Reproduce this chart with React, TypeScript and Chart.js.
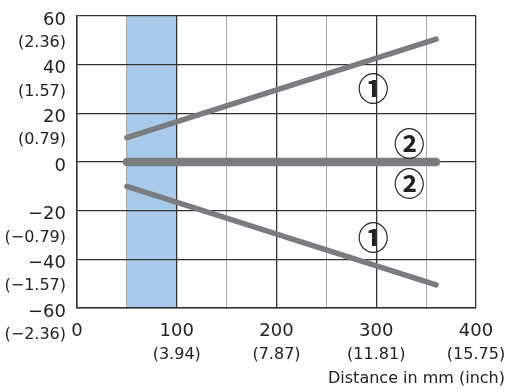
import React, { useEffect, useRef } from "react";
import { Chart, registerables } from "chart.js";

Chart.register(...registerables);

// Data
const xStart = 50;
const xEnd = 360;
const upperY = [10, 50.5];
const lowerY = [-10, -50.5];
const middleY = [0, 0];
const yTicks = [60, 40, 20, 0, -20, -40, -60];
const yInch = ["(2.36)", "(1.57)", "(0.79)", "", "(−0.79)", "(−1.57)", "(−2.36)"];
const xTicks = [0, 100, 200, 300, 400];
const xInch = ["", "(3.94)", "(7.87)", "(11.81)", "(15.75)"];
const bandRange = [50, 100];
const markers = [
  { x: 297, y: 30.5, t: "①" },
  { x: 333, y: 7.8, t: "②" },
  { x: 333, y: -8.6, t: "②" },
  { x: 297, y: -31, t: "①" },
];
const xTitle = "Distance in mm (inch)";

const LINE = "#7b7c80";
const FONT = "'DejaVu Sans', 'Liberation Sans', sans-serif";

const fmt = (v: number) => (v < 0 ? "−" + Math.abs(v) : String(v));

const annotPlugin = {
  id: "annot",
  beforeDraw(chart: any) {
    const { ctx, chartArea, scales } = chart;
    const x0 = scales.x.getPixelForValue(bandRange[0]);
    const x1 = scales.x.getPixelForValue(bandRange[1]);
    ctx.save();
    ctx.fillStyle = "#a9cbeb";
    ctx.fillRect(x0, chartArea.top, x1 - x0, chartArea.bottom - chartArea.top);
    ctx.restore();
  },
  afterDraw(chart: any) {
    const { ctx, scales } = chart;
    ctx.save();
    ctx.fillStyle = "#222";
    // y labels
    ctx.textAlign = "right";
    ctx.textBaseline = "middle";
    yTicks.forEach((v, i) => {
      const py = scales.y.getPixelForValue(v);
      ctx.font = "18px " + FONT;
      ctx.fillText(fmt(v), 66, py + 4);
      if (yInch[i]) {
        ctx.font = "16px " + FONT;
        ctx.fillText(yInch[i], 66, py + 27);
      }
    });
    // x labels
    ctx.textAlign = "center";
    xTicks.forEach((v, i) => {
      const px = scales.x.getPixelForValue(v);
      ctx.font = "18px " + FONT;
      ctx.fillText(fmt(v), px, 331);
      if (xInch[i]) {
        ctx.font = "16px " + FONT;
        ctx.fillText(xInch[i], px, 355);
      }
    });
    ctx.textAlign = "right";
    ctx.font = "16px " + FONT;
    ctx.fillText(xTitle, 505, 379);
    // markers
    ctx.textAlign = "center";
    ctx.font = "bold 31px 'Noto Sans CJK JP', 'DejaVu Sans', sans-serif";
    markers.forEach((m) => {
      ctx.fillText(m.t, scales.x.getPixelForValue(m.x), scales.y.getPixelForValue(m.y));
    });
    ctx.restore();
  },
};

export default function App() {
  const ref = useRef<HTMLCanvasElement>(null);
  useEffect(() => {
    if (!ref.current) return;
    const mk = (ys: number[], w: number) => ({
      data: [
        { x: xStart, y: ys[0] },
        { x: xEnd, y: ys[1] },
      ],
      borderColor: LINE,
      borderWidth: w,
      borderCapStyle: "round" as const,
      pointRadius: 0,
      fill: false,
    });
    const chart = new Chart(ref.current, {
      type: "line",
      data: {
        datasets: [mk(upperY, 5.5), mk(lowerY, 5.5), mk(middleY, 8.5)],
      },
      options: {
        animation: false,
        responsive: false,
        layout: { padding: { left: 77, right: 31, top: 16, bottom: 84 } },
        plugins: { legend: { display: false }, tooltip: { enabled: false } },
        scales: {
          x: {
            type: "linear",
            min: 0,
            max: 400,
            ticks: { display: false, stepSize: 50 },
            grid: {
              drawTicks: false,
              color: (c: any) => (c.tick && c.tick.value % 100 === 0 ? "#333" : "#aaa"),
              lineWidth: (c: any) => (c.tick && c.tick.value % 100 === 0 ? 1.3 : 1),
            },
            border: { color: "#333", width: 1.5 },
          },
          y: {
            type: "linear",
            min: -60,
            max: 60,
            ticks: { display: false, stepSize: 20 },
            grid: { drawTicks: false, color: "#333", lineWidth: 1.3 },
            border: { color: "#333", width: 1.5 },
          },
        },
      },
      plugins: [annotPlugin],
    });
    return () => chart.destroy();
  }, []);
  return (
    <div style={{ position: "fixed", left: 0, top: 0, width: 507, height: 392, background: "#fff" }}>
      <canvas ref={ref} width={507} height={392} style={{ width: 507, height: 392 }} />
    </div>
  );
}
